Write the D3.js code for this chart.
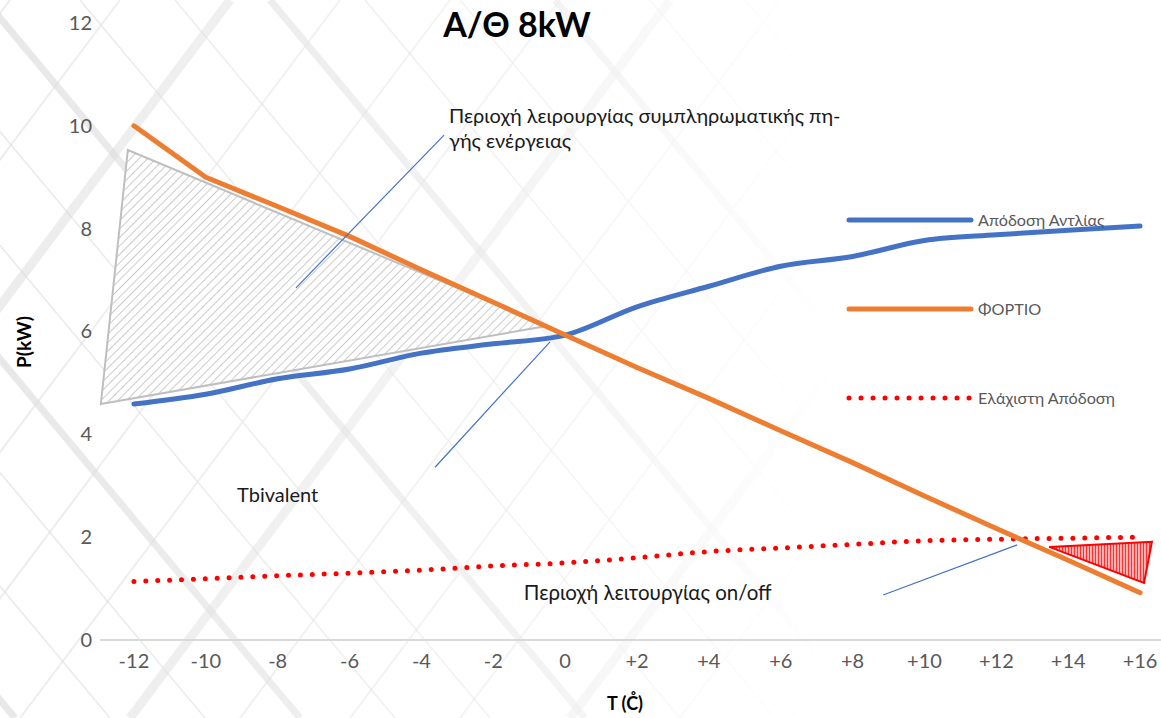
<!DOCTYPE html>
<html>
<head>
<meta charset="utf-8">
<script src="https://cdn.jsdelivr.net/npm/d3@7"></script>
<style>
	body { margin: 0; background: #fff; }
	svg { display: block; font-family: Lato, "Open Sans", sans-serif; }
</style>
</head>
<body>
<script>
// temperatures (category axis)
const temps = ["-12", "-10", "-8", "-6", "-4", "-2", "0", "+2", "+4", "+6", "+8", "+10", "+12", "+14", "+16"];
// Απόδοση Αντλίας (kW)
const pumpOutput = [4.59, 4.78, 5.08, 5.27, 5.58, 5.76, 5.93, 6.48, 6.88, 7.27, 7.46, 7.77, 7.88, 7.97, 8.05];
// ΦΟΡΤΙΟ (kW)
const load = [10.0, 9.0, 8.43, 7.85, 7.2, 6.57, 5.93, 5.3, 4.7, 4.07, 3.45, 2.8, 2.17, 1.55, 0.92];
// Ελάχιστη Απόδοση (kW)
const minOutput = [1.14, 1.19, 1.25, 1.3, 1.36, 1.44, 1.5, 1.6, 1.72, 1.79, 1.86, 1.93, 1.96, 1.98, 2.0];
const yTicks = [0, 2, 4, 6, 8, 10, 12];

// annotation shapes, in (T, kW)
const suppZone = [[-12.17, 9.53], [-12.92, 4.59], [-0.48, 6.11]];
const onOffZone = [[13.47, 1.81], [16.33, 1.91], [16.11, 1.11]];
const callouts = [
	[[-3.37, 9.82], [-7.49, 6.85]],
	[[-0.42, 5.80], [-3.62, 3.36]],
	[[12.58, 1.85], [8.85, 0.875]]
];

const width = 1161, height = 718;

const svg = d3.select("body").append("svg")
	.attr("width", width)
	.attr("height", height);

const defs = svg.append("defs");

// background fade so the decoration dies out to the right
const fade = defs.append("linearGradient").attr("id", "fade");
fade.append("stop").attr("offset", "0").attr("stop-color", "#fff").attr("stop-opacity", 1);
fade.append("stop").attr("offset", "0.45").attr("stop-color", "#fff").attr("stop-opacity", 0.55);
fade.append("stop").attr("offset", "0.72").attr("stop-color", "#fff").attr("stop-opacity", 0);
defs.append("mask").attr("id", "bgmask")
	.append("rect").attr("width", width).attr("height", height).attr("fill", "url(#fade)");

const hatch = defs.append("pattern")
	.attr("id", "hatch")
	.attr("patternUnits", "userSpaceOnUse")
	.attr("width", 6).attr("height", 6)
	.attr("patternTransform", "rotate(45)");
hatch.append("rect").attr("width", 6).attr("height", 6).attr("fill", "#fff");
hatch.append("line")
	.attr("x1", 0).attr("y1", 0).attr("x2", 0).attr("y2", 6)
	.attr("stroke", "#a8a8a8").attr("stroke-width", 1.2);

const redHatch = defs.append("pattern")
	.attr("id", "redhatch")
	.attr("patternUnits", "userSpaceOnUse")
	.attr("width", 3).attr("height", 3);
redHatch.append("rect").attr("width", 3).attr("height", 3).attr("fill", "#ffb0b0");
redHatch.append("line")
	.attr("x1", 0.5).attr("y1", 0).attr("x2", 0.5).attr("y2", 3)
	.attr("stroke", "#ff3030").attr("stroke-width", 1);

// faint architectural background
const bg = svg.append("g").attr("mask", "url(#bgmask)").attr("stroke", "#d9d9d9").attr("fill", "none");
d3.range(-6, 14).forEach(i => {
	bg.append("line")
		.attr("x1", i * 95 - 300).attr("y1", 0)
		.attr("x2", i * 95 + 300).attr("y2", height)
		.attr("stroke-width", i % 3 === 0 ? 7 : 1.5)
		.attr("opacity", 0.6);
	bg.append("line")
		.attr("x1", i * 110 + 120).attr("y1", 0)
		.attr("x2", i * 110 - 420).attr("y2", height)
		.attr("stroke-width", i % 4 === 1 ? 9 : 2)
		.attr("opacity", 0.5);
});

const x = d3.scaleBand()
	.domain(temps)
	.range([98, 1176]);

const xLin = d3.scaleLinear()
	.domain([-12, 16])
	.range([x("-12") + x.bandwidth() / 2, x("+16") + x.bandwidth() / 2]);

const y = d3.scaleLinear()
	.domain([0, 12])
	.range([640, 23]);

// axes
const xAxis = svg.append("g")
	.attr("transform", `translate(0,${y(0)})`)
	.call(d3.axisBottom(x).tickSize(0).tickPadding(14).tickSizeOuter(0));
xAxis.select(".domain").attr("stroke", "#d9d9d9").attr("stroke-width", 2)
	.attr("d", `M100,0H${width}`);
xAxis.selectAll("text")
	.attr("font-family", "Lato, sans-serif")
	.attr("font-size", 20)
	.attr("fill", "#595959");

const yAxis = svg.append("g")
	.attr("transform", "translate(92,0)")
	.call(d3.axisLeft(y).tickValues(yTicks).tickSize(0).tickPadding(0));
yAxis.select(".domain").remove();
yAxis.selectAll("text")
	.attr("font-family", "Lato, sans-serif")
	.attr("font-size", 20)
	.attr("fill", "#595959");

// supplementary source zone
svg.append("path")
	.datum(suppZone)
	.attr("d", d3.line().x(d => xLin(d[0])).y(d => y(d[1])).curve(d3.curveLinearClosed))
	.attr("fill", "url(#hatch)")
	.attr("stroke", "#bfbfbf")
	.attr("stroke-width", 2);

const cx = (d, i) => x(temps[i]) + x.bandwidth() / 2;
const smooth = d3.line().x(cx).y(d => y(d)).curve(d3.curveMonotoneX);
const straight = d3.line().x(cx).y(d => y(d));

svg.append("path")
	.datum(minOutput)
	.attr("d", smooth)
	.attr("fill", "none")
	.attr("stroke", "#ff0000")
	.attr("stroke-width", 5)
	.attr("stroke-linecap", "round")
	.attr("stroke-dasharray", "0 11.9");

svg.append("path")
	.datum(pumpOutput)
	.attr("d", smooth)
	.attr("fill", "none")
	.attr("stroke", "#4472c4")
	.attr("stroke-width", 5)
	.attr("stroke-linecap", "round");

svg.append("path")
	.datum(load)
	.attr("d", straight)
	.attr("fill", "none")
	.attr("stroke", "#ed7d31")
	.attr("stroke-width", 5)
	.attr("stroke-linecap", "round")
	.attr("stroke-linejoin", "round");

// on/off zone
svg.append("path")
	.datum(onOffZone)
	.attr("d", d3.line().x(d => xLin(d[0])).y(d => y(d[1])).curve(d3.curveLinearClosed))
	.attr("fill", "url(#redhatch)")
	.attr("stroke", "#ff0000")
	.attr("stroke-width", 2);

// callout lines
svg.append("g")
	.selectAll("line")
	.data(callouts)
	.join("line")
	.attr("x1", d => xLin(d[0][0]))
	.attr("y1", d => y(d[0][1]))
	.attr("x2", d => xLin(d[1][0]))
	.attr("y2", d => y(d[1][1]))
	.attr("stroke", "#4472c4")
	.attr("stroke-width", 1.2);

// annotation texts
const note = svg.append("text")
	.attr("x", xLin(-3.23))
	.attr("y", y(10.05))
	.attr("font-size", 20)
	.attr("fill", "#1a1a1a");
note.append("tspan").text("Περιοχή λειρουργίας συμπληρωματικής πη-");
note.append("tspan")
	.attr("x", xLin(-3.23))
	.attr("dy", 25)
	.text("γής ενέργειας");

svg.append("text")
	.attr("x", xLin(-9.13))
	.attr("y", y(2.68))
	.attr("font-size", 20)
	.attr("fill", "#1a1a1a")
	.text("Tbivalent");

svg.append("text")
	.attr("x", xLin(-1.15))
	.attr("y", y(0.78))
	.attr("font-size", 20.5)
	.attr("fill", "#1a1a1a")
	.text("Περιοχή λειτουργίας on/off");

// title
svg.append("text")
	.attr("x", 517)
	.attr("y", 37)
	.attr("text-anchor", "middle")
	.attr("font-size", 34)
	.attr("font-weight", "bold")
	.attr("fill", "#000")
	.text("Α/Θ 8kW");

// axis titles
svg.append("text")
	.attr("transform", "translate(31,342) rotate(-90)")
	.attr("text-anchor", "middle")
	.attr("font-size", 19)
	.attr("font-weight", "bold")
	.attr("fill", "#000")
	.text("P(kW)");

svg.append("text")
	.attr("x", 625)
	.attr("y", 710)
	.attr("text-anchor", "middle")
	.attr("font-size", 18)
	.attr("font-weight", "bold")
	.attr("fill", "#000")
	.text("T (C\u030A)");

// legend
const legendItems = [
	{ name: "Απόδοση Αντλίας", colour: "#4472c4", dash: null, y: 220 },
	{ name: "ΦΟΡΤΙΟ", colour: "#ed7d31", dash: null, y: 309 },
	{ name: "Ελάχιστη Απόδοση", colour: "#ff0000", dash: "0 12", y: 398 }
];

const lg = svg.append("g")
	.selectAll("g")
	.data(legendItems)
	.join("g");

lg.append("line")
	.attr("x1", 849)
	.attr("x2", 971)
	.attr("y1", d => d.y)
	.attr("y2", d => d.y)
	.attr("stroke", d => d.colour)
	.attr("stroke-width", 5)
	.attr("stroke-linecap", "round")
	.attr("stroke-dasharray", d => d.dash);

lg.append("text")
	.attr("x", 978)
	.attr("y", d => d.y)
	.attr("dy", "0.35em")
	.attr("font-size", 16.2)
	.attr("fill", "#595959")
	.text(d => d.name);
</script>
</body>
</html>
